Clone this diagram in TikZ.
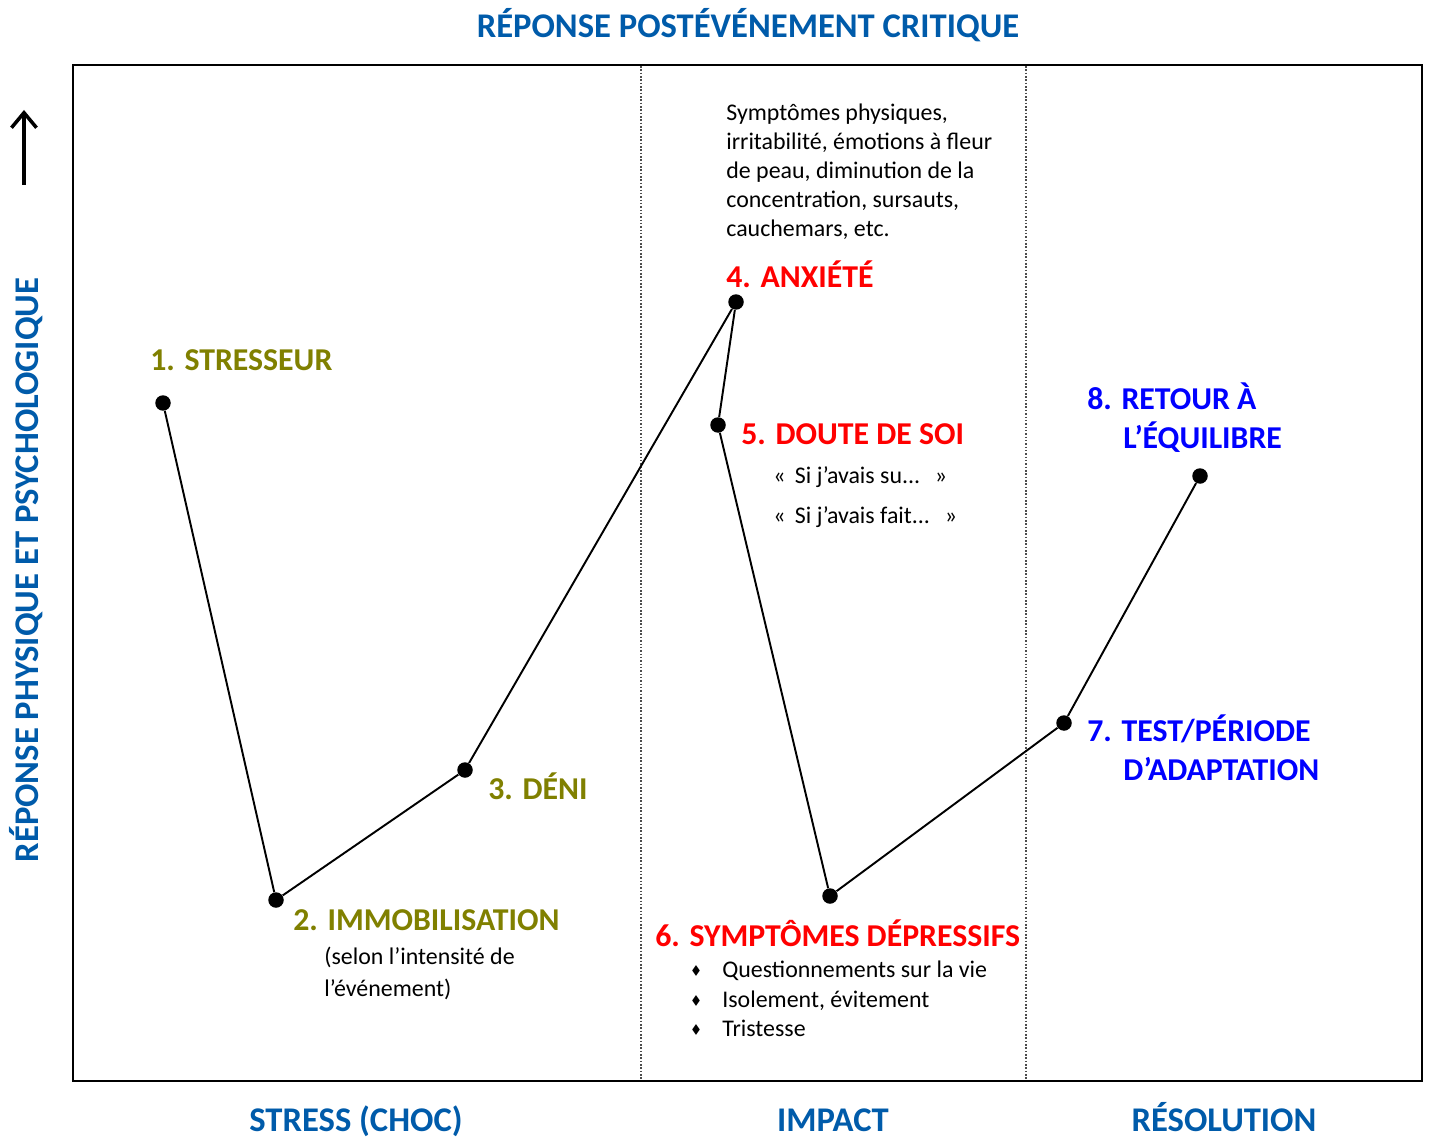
\documentclass[tikz,border=0pt]{standalone}
\usepackage{amssymb}
\usepackage{fontspec}
\setmainfont{Carlito}
\usetikzlibrary{arrows.meta}

\definecolor{olivelbl}{RGB}{128,128,0}
\definecolor{redlbl}{RGB}{255,0,0}
\definecolor{bluelbl}{RGB}{0,0,255}
\definecolor{titleblue}{RGB}{0,91,170}

\newcommand{\bigtxt}{\fontsize{18.1}{21}\selectfont\bfseries}
\newcommand{\axistxt}{\fontsize{19.7}{23}\selectfont\bfseries}
\newcommand{\smalltxt}{\fontsize{13.6}{16.4}\selectfont}

\tikzset{
  dot/.style={circle, fill=black, inner sep=0pt, minimum size=0.31cm},
  stage/.style={anchor=base west, inner sep=0pt, font=\bigtxt},
  note/.style={anchor=base west, inner sep=0pt, font=\smalltxt},
  axistitle/.style={anchor=base, inner sep=0pt, font=\axistxt, text=titleblue},
  curve/.style={line width=1.1pt},
  divider/.style={densely dotted, line width=0.9pt, black!70}
}

\begin{document}
\begin{tikzpicture}[x=0.02cm, y=-0.02cm]
\useasboundingbox (0,0) rectangle (1429,1138);

% frame and column dividers
\draw[line width=1.2pt] (73,65) rectangle (1422,1081);
\draw[divider] (641,66) -- (641,1079);
\draw[divider] (1026,66) -- (1026,1079);

% titles
\node[axistitle] (title) at (748,38) {RÉPONSE POSTÉVÉNEMENT CRITIQUE};
\node[axistitle, rotate=90] (ytitle) at (38,570) {RÉPONSE PHYSIQUE ET PSYCHOLOGIQUE};
\node[axistitle] (colA) at (356,1131) {STRESS (CHOC)};
\node[axistitle] (colB) at (833,1131) {IMPACT};
\node[axistitle] (colC) at (1224,1131) {RÉSOLUTION};

% upward arrow
\coordinate (arrowlow) at (24,185);
\coordinate (arrowtop) at (24,110);
\draw[line width=2pt, -{Straight Barb[length=3mm, width=5mm]}] (arrowlow) -- (arrowtop);

% curve points
\node[dot] (p1) at (163,403) {};
\node[dot] (p2) at (276,900) {};
\node[dot] (p3) at (465,770) {};
\node[dot] (p4) at (736,302) {};
\node[dot] (p5) at (718,425) {};
\node[dot] (p6) at (830,896) {};
\node[dot] (p7) at (1064,723) {};
\node[dot] (p8) at (1200,476) {};
\draw[curve] (p1) -- (p2) -- (p3) -- (p4) -- (p5) -- (p6) -- (p7) -- (p8);

% stage labels
\node[stage, text=olivelbl] (stresseur) at (150,370) {1. STRESSEUR};
\node[stage, text=olivelbl] (immob) at (293,930) {2. IMMOBILISATION};
\node[note] (immobA) at (324,964) {(selon l’intensité de};
\node[note] (immobB) at (324,996) {l’événement)};
\node[stage, text=olivelbl] (deni) at (488,799) {3. DÉNI};

\node[note, align=left, anchor=north west] (physique) at (726,104)
  {Symptômes physiques,\\irritabilité, émotions à fleur\\de peau, diminution de la\\concentration, sursauts,\\cauchemars, etc.};
\node[stage, text=redlbl] (anxiete) at (726,288) {4. ANXIÉTÉ};
\node[stage, text=redlbl] (doute) at (741,444) {5. DOUTE DE SOI};
\node[note] (douteA) at (773,483) {«\, Si j’avais su...\ \ \,»};
\node[note] (douteB) at (773,523) {«\, Si j’avais fait...\ \ \,»};

\node[stage, text=redlbl] (depress) at (655,946) {6. SYMPTÔMES DÉPRESSIFS};
\foreach \y/\t [count=\i] in {977/Questionnements sur la vie, 1007/{Isolement, évitement}, 1036/Tristesse} {
  \node[note] (puce\i) at (691,\y-3) {\fontsize{7}{8}\selectfont$\blacklozenge$};
  \node[note] (item\i) at (722,\y) {\t};
}

\node[stage, text=bluelbl] (testA) at (1087,741) {7. TEST/PÉRIODE};
\node[stage, text=bluelbl] (testB) at (1123,780) {D’ADAPTATION};
\node[stage, text=bluelbl] (retourA) at (1087,409) {8. RETOUR À};
\node[stage, text=bluelbl] (retourB) at (1123,448) {L’ÉQUILIBRE};
\end{tikzpicture}
\end{document}
